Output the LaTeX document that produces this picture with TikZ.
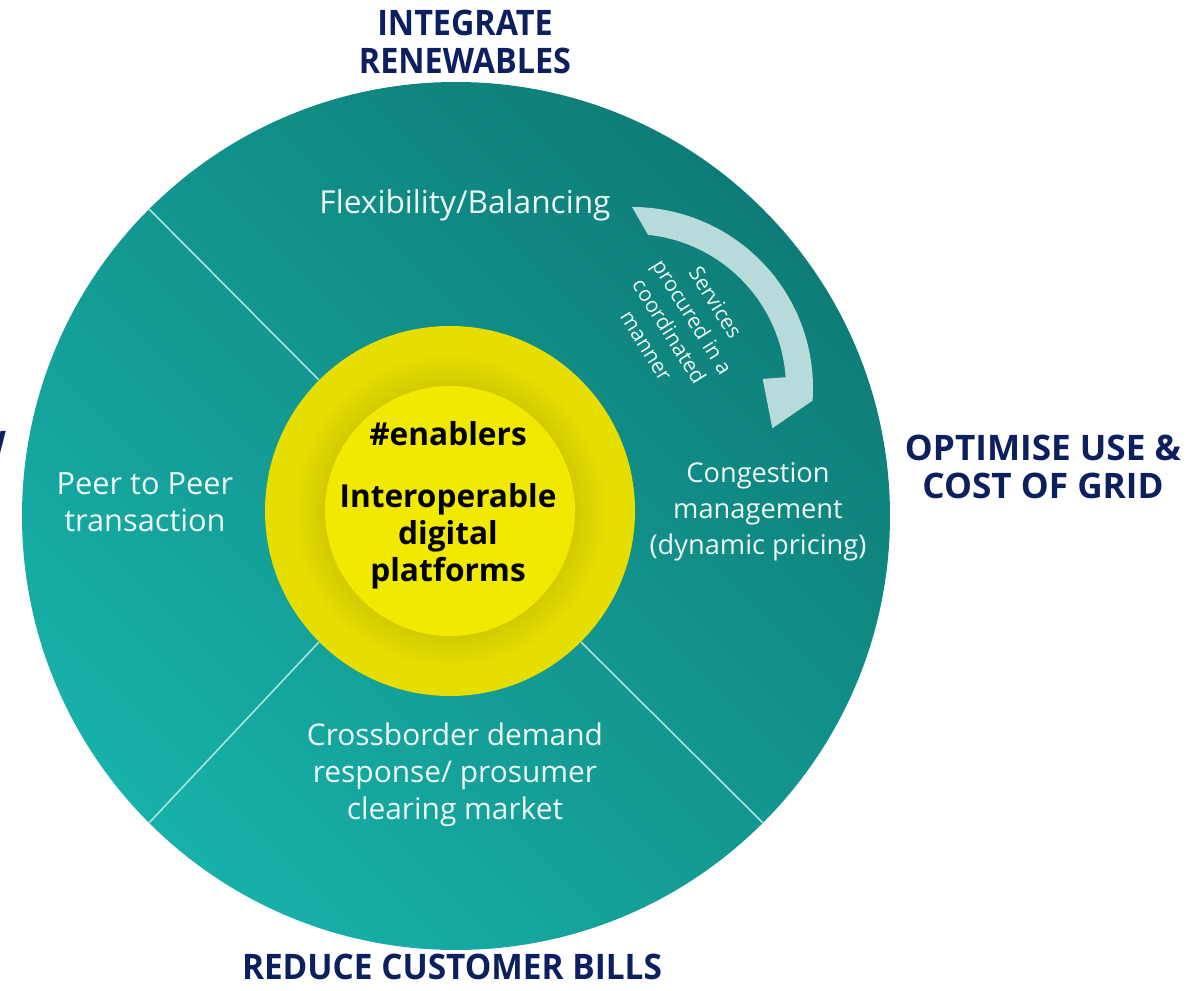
\documentclass[tikz,border=0pt]{standalone}
\usepackage{fontspec}
\setmainfont{Open Sans}
\usetikzlibrary{calc}
\definecolor{tealdark}{HTML}{0E7C76}
\definecolor{teallight}{HTML}{17B1A9}
\definecolor{hubring}{HTML}{E6DE00}
\definecolor{hubshadow}{HTML}{D2CA00}
\definecolor{hubcore}{HTML}{F1EA00}
\definecolor{navy}{HTML}{0C1F5E}
\definecolor{paletext}{HTML}{EEF8F6}
\definecolor{arrowpale}{HTML}{B9DADA}
\definecolor{divline}{HTML}{ACE4E0}

\begin{document}
\begin{tikzpicture}
    \def\wheelsize{17.36cm}
    \tikzstyle{goal}=[font=\bfseries\fontsize{20}{21.5}\selectfont, text=navy, align=center]
    \tikzstyle{service}=[font=\fontsize{17.5}{21}\selectfont, text=paletext, align=center]
    \tikzstyle{enabler}=[font=\bfseries\fontsize{18}{21}\selectfont, text=black, align=center]
    \tikzstyle{divider}=[divline, line width=0.9pt]
    \tikzstyle{disc}=[circle, inner sep=0pt]

\useasboundingbox (-9.12,-9.48) rectangle (14.64,10.32);

% Roue
\node[disc, minimum size=\wheelsize, top color=tealdark, bottom color=teallight, shading angle=-45] (wheel) at (0,0) {};

% Moyeu
\node[disc, fill=hubring, minimum size=7.4cm] (hub) at (-0.12,0.1) {};
\foreach \i [evaluate=\i as \p using int(\i*8), evaluate=\i as \r using 3.15-\i*0.05] in {0,...,12}
  \fill[hubshadow!\p!hubring] (hub.center) circle (\r);
\node[disc, fill=hubcore, minimum size=5cm] (core) at (-0.12,0.1) {};

% Separations
\draw[divider] (hub.135) -- (wheel.135);
\draw[divider] (hub.225) -- (wheel.225);
\draw[divider] (hub.-45) -- (wheel.-45);

% Fleche
\coordinate (ac) at (3.52,2.56);
\fill[arrowpale] ($(ac)+(90:3.62)$) arc[start angle=90, end angle=-4, radius=3.62]
   -- ($(ac)+(-16:2.92)$) -- ($(ac)+(4:2.62)$)
   -- ($(ac)+(4:3.08)$) arc[start angle=4, end angle=84, radius=3.08] -- cycle;
\node[font=\fontsize{12}{15.5}\selectfont, text=paletext, align=center, rotate=-58] (coord) at (4.5,3.84)
  {Services\\procured in a\\coordinated\\manner};

% Objectifs
\node[goal, xscale=0.92] (renew) at (0.18,9.48) {INTEGRATE\\RENEWABLES};
\node[goal] (grid) at (11.74,0.98) {OPTIMISE USE \&\\COST OF GRID};
\node[goal, xscale=0.95] (bills) at (-0.08,-9.02) {REDUCE CUSTOMER BILLS};
\node[goal, anchor=east] (cut) at (-8.88,1.44) {W};

% Services
\node[service, font=\fontsize{18}{21}\selectfont] (flex) at (0.18,6.22) {Flexibility/Balancing};
\node[service] (p2p) at (-6.22,0.28) {Peer to Peer\\transaction};
\node[service, font=\fontsize{15.5}{20.5}\selectfont] (cong) at (6.04,0.08) {Congestion\\management\\(dynamic pricing)};
\node[service, font=\fontsize{17}{21}\selectfont] (cross) at (-0.02,-5.18) {Crossborder demand\\response/ prosumer\\clearing market};

% Centre
\node[enabler] (tag) at (-0.16,1.64) {\#enablers};
\node[enabler] (platform) at (-0.16,-0.4) {Interoperable\\digital\\platforms};

\end{tikzpicture}
\end{document}
